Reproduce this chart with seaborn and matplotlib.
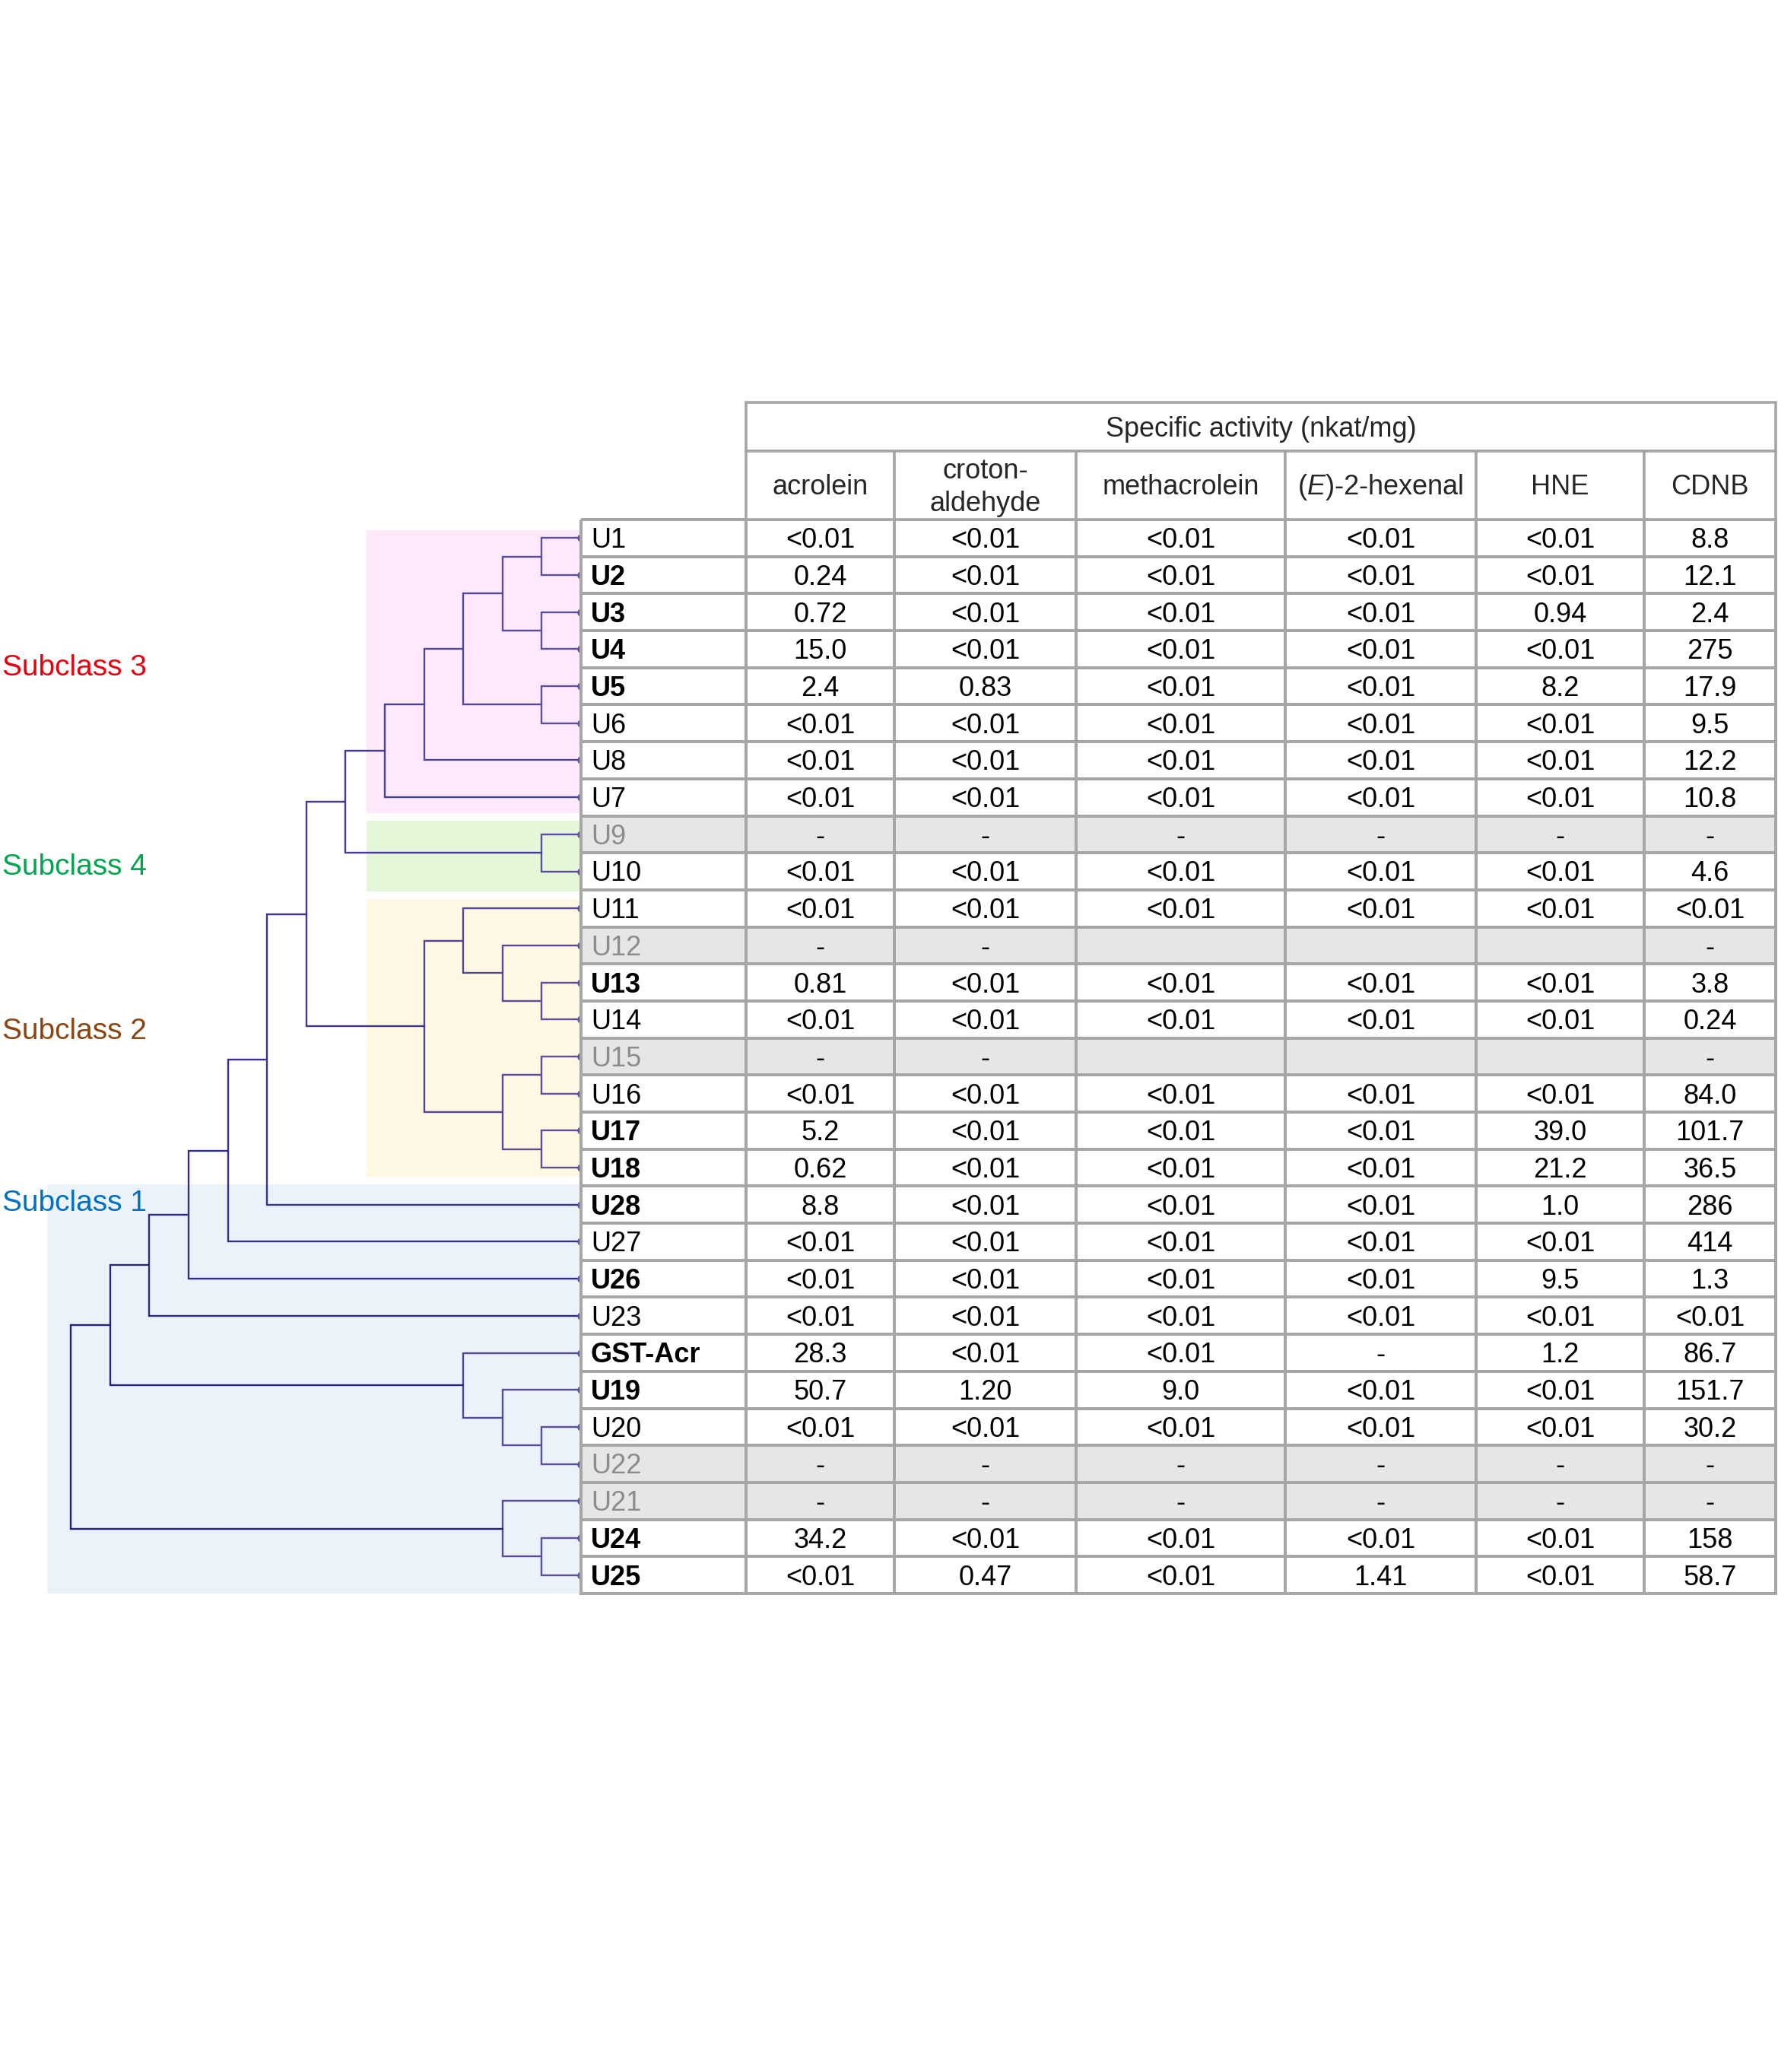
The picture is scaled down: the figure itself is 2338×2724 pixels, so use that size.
import numpy as np
import matplotlib
matplotlib.use('Agg')
import matplotlib.pyplot as plt
from matplotlib.colors import ListedColormap, to_rgb
from matplotlib.patches import Rectangle
from matplotlib import font_manager
import seaborn as sns

sns.set_style('white')
plt.rcParams['font.family'] = ['Liberation Sans', 'DejaVu Sans']
plt.rcParams['mathtext.fontset'] = 'custom'
plt.rcParams['mathtext.rm'] = 'Liberation Sans'
plt.rcParams['mathtext.it'] = 'Liberation Sans:italic'

# ---------------- data ----------------
LT = '<0.01'
enzymes = ['U1', 'U2', 'U3', 'U4', 'U5', 'U6', 'U8', 'U7', 'U9', 'U10',
           'U11', 'U12', 'U13', 'U14', 'U15', 'U16', 'U17', 'U18', 'U28', 'U27',
           'U26', 'U23', 'GST-Acr', 'U19', 'U20', 'U22', 'U21', 'U24', 'U25']
bold_enzymes = ['U2', 'U3', 'U4', 'U5', 'U13', 'U17', 'U18', 'U28', 'U26',
                'GST-Acr', 'U19', 'U24', 'U25']
missing_enzymes = ['U9', 'U12', 'U15', 'U22', 'U21']

substrates = ['acrolein', 'croton-\naldehyde', 'methacrolein',
              r'($\mathit{E}$)-2-hexenal', 'HNE', 'CDNB']
header_title = 'Specific activity (nkat/mg)'

acrolein = ['<0.01', '0.24', '0.72', '15.0', '2.4', LT, LT, LT, '-', LT,
            LT, '-', '0.81', LT, '-', LT, '5.2', '0.62', '8.8', LT,
            LT, LT, '28.3', '50.7', LT, '-', '-', '34.2', LT]
crotonaldehyde = [LT, LT, LT, LT, '0.83', LT, LT, LT, '-', LT,
                  LT, '-', LT, LT, '-', LT, LT, LT, LT, LT,
                  LT, LT, LT, '1.20', LT, '-', '-', LT, '0.47']
methacrolein = [LT, LT, LT, LT, LT, LT, LT, LT, '-', LT,
                LT, '', LT, LT, '', LT, LT, LT, LT, LT,
                LT, LT, LT, '9.0', LT, '-', '-', LT, LT]
hexenal = [LT, LT, LT, LT, LT, LT, LT, LT, '-', LT,
           LT, '', LT, LT, '', LT, LT, LT, LT, LT,
           LT, LT, '-', LT, LT, '-', '-', LT, '1.41']
hne = [LT, LT, '0.94', LT, '8.2', LT, LT, LT, '-', LT,
       LT, '', LT, LT, '', LT, '39.0', '21.2', '1.0', LT,
       '9.5', LT, '1.2', LT, LT, '-', '-', LT, LT]
cdnb = ['8.8', '12.1', '2.4', '275', '17.9', '9.5', '12.2', '10.8', '-', '4.6',
        LT, '-', '3.8', '0.24', '-', '84.0', '101.7', '36.5', '286', '414',
        '1.3', LT, '86.7', '151.7', '30.2', '-', '-', '158', '58.7']
value_columns = [acrolein, crotonaldehyde, methacrolein, hexenal, hne, cdnb]

# dendrogram merges: (child a, child b, merge level); leaves 0..28, new nodes 29..
merges = [(0, 1, 1), (2, 3, 1), (29, 30, 2), (4, 5, 1), (31, 32, 3),
          (33, 6, 4), (34, 7, 5), (8, 9, 1), (35, 36, 6),
          (12, 13, 1), (11, 38, 2), (10, 39, 3), (14, 15, 1), (16, 17, 1),
          (41, 42, 2), (40, 43, 4), (37, 44, 7), (45, 18, 8), (46, 19, 9),
          (47, 20, 10), (48, 21, 11), (24, 25, 1), (23, 50, 2), (22, 51, 3),
          (49, 52, 12), (27, 28, 1), (26, 54, 2), (53, 55, 13)]

subclass_names = ['Subclass 3', 'Subclass 4', 'Subclass 2', 'Subclass 1']
subclass_rows = [(0.28, 7.93), (8.13, 10.04), (10.25, 17.74), (17.95, 29.0)]
subclass_depth = [5.47, 5.47, 5.47, 13.6]
subclass_label_row = [4.22, 9.6, 14.02, 18.66]

# ---------------- styles / layout ----------------
band_colors = ['#FDE9FB', '#E4F7D8', '#FEF7E3', '#EBF2FA']
label_colors = ['#E8000D', '#00A550', '#8B4513', '#0070C0']
grid_color = '#A6A6A6'
missing_fill = '#E6E6E6'
missing_text = '#8C8C8C'
leaf_line = '#5E4F9E'
root_line = '#23217A'

W, H = 2338, 2724
col_edges = [764, 981, 1176, 1415, 1690, 1941, 2162, 2335]
head_top, head_mid, body_top, body_bot = 529, 593, 683, 2095
level_px = 51.6
fs = 26
text_drop = 0.07   # small downward nudge of cell text, in row units

try:
    font_manager.findfont('Liberation Sans Narrow', fallback_to_default=False)
    sub_font, sub_size = 'Liberation Sans Narrow', 33
except ValueError:
    sub_font, sub_size = 'Liberation Sans', 28

fig = plt.figure(figsize=(W / 100, H / 100), dpi=100)
n = len(enzymes)

# ---------------- dendrogram ----------------
axd = fig.add_axes([0, 1 - body_bot / H, col_edges[0] / W, (body_bot - body_top) / H])
axd.set_xlim(col_edges[0] / level_px, 0)
axd.set_ylim(n, 0)
axd.axis('off')

for name, (r0, r1), depth, bc, lc, ly in zip(subclass_names, subclass_rows, subclass_depth,
                                              band_colors, label_colors, subclass_label_row):
    axd.add_patch(Rectangle((0, r0), depth, r1 - r0, facecolor=bc, edgecolor='none', zorder=0))
    axd.text(0.004, ly, name, transform=axd.get_yaxis_transform(), ha='left', va='baseline',
             fontsize=sub_size, color=lc, family=[sub_font, 'DejaVu Sans'], clip_on=False)

pos = {i: (0.0, i + 0.5) for i in range(n)}
c_leaf, c_root = np.array(to_rgb(leaf_line)), np.array(to_rgb(root_line))
for k, (a, b, h) in enumerate(merges):
    xa, ya = pos[a]
    xb, yb = pos[b]
    t = (h - 1) / 12
    col = c_leaf * (1 - t) + c_root * t
    axd.plot([xa, h, h, xb], [ya, ya, yb, yb], color=col, lw=1.7,
             solid_joinstyle='miter', zorder=2)
    pos[n + k] = (h, (ya + yb) / 2)

axd.plot(np.zeros(n), np.arange(n) + 0.5, 'o', ms=6.5, color=leaf_line,
         clip_on=False, zorder=3)

# ---------------- table body (one heatmap per column) ----------------
flags = np.array([[1.0 if e in missing_enzymes else 0.0] for e in enzymes])
cell_cmap = ListedColormap(['white', missing_fill])
columns = [enzymes] + value_columns
for j, col_vals in enumerate(columns):
    x0, x1 = col_edges[j], col_edges[j + 1]
    ax = fig.add_axes([x0 / W, 1 - body_bot / H, (x1 - x0) / W, (body_bot - body_top) / H])
    sns.heatmap(flags, ax=ax, cmap=cell_cmap, vmin=0, vmax=1, cbar=False,
                annot=np.array(col_vals).reshape(-1, 1), fmt='',
                annot_kws={'size': fs, 'color': 'black'},
                linewidths=2.6, linecolor=grid_color,
                xticklabels=False, yticklabels=False)
    ax.collections[0].set_clip_on(False)
    for txt in ax.texts:
        txt.set_y(txt.get_position()[1] + text_drop)
    if j == 0:
        for txt, name in zip(ax.texts, enzymes):
            txt.set_ha('left')
            txt.set_x(13 / (x1 - x0))
            if name in bold_enzymes:
                txt.set_fontweight('bold')
            if name in missing_enzymes:
                txt.set_color(missing_text)

# ---------------- header ----------------
ov = fig.add_axes([0, 0, 1, 1])
ov.set_xlim(0, W)
ov.set_ylim(H, 0)
ov.axis('off')
ov.patch.set_alpha(0)

ov.add_patch(Rectangle((col_edges[1], head_top), col_edges[-1] - col_edges[1], head_mid - head_top,
                       facecolor='white', edgecolor=grid_color, lw=2.6))
ov.text((col_edges[1] + col_edges[-1]) / 2, (head_top + head_mid) / 2 + 3, header_title,
        ha='center', va='center', fontsize=fs)
for j, sub in enumerate(substrates):
    x0, x1 = col_edges[j + 1], col_edges[j + 2]
    ov.add_patch(Rectangle((x0, head_mid), x1 - x0, body_top - head_mid,
                           facecolor='white', edgecolor=grid_color, lw=2.6))
    ov.text((x0 + x1) / 2, (head_mid + body_top) / 2 + 3, sub, ha='center', va='center',
            fontsize=fs, linespacing=1.3)

fig.savefig('out.png', dpi=100, facecolor='white')
